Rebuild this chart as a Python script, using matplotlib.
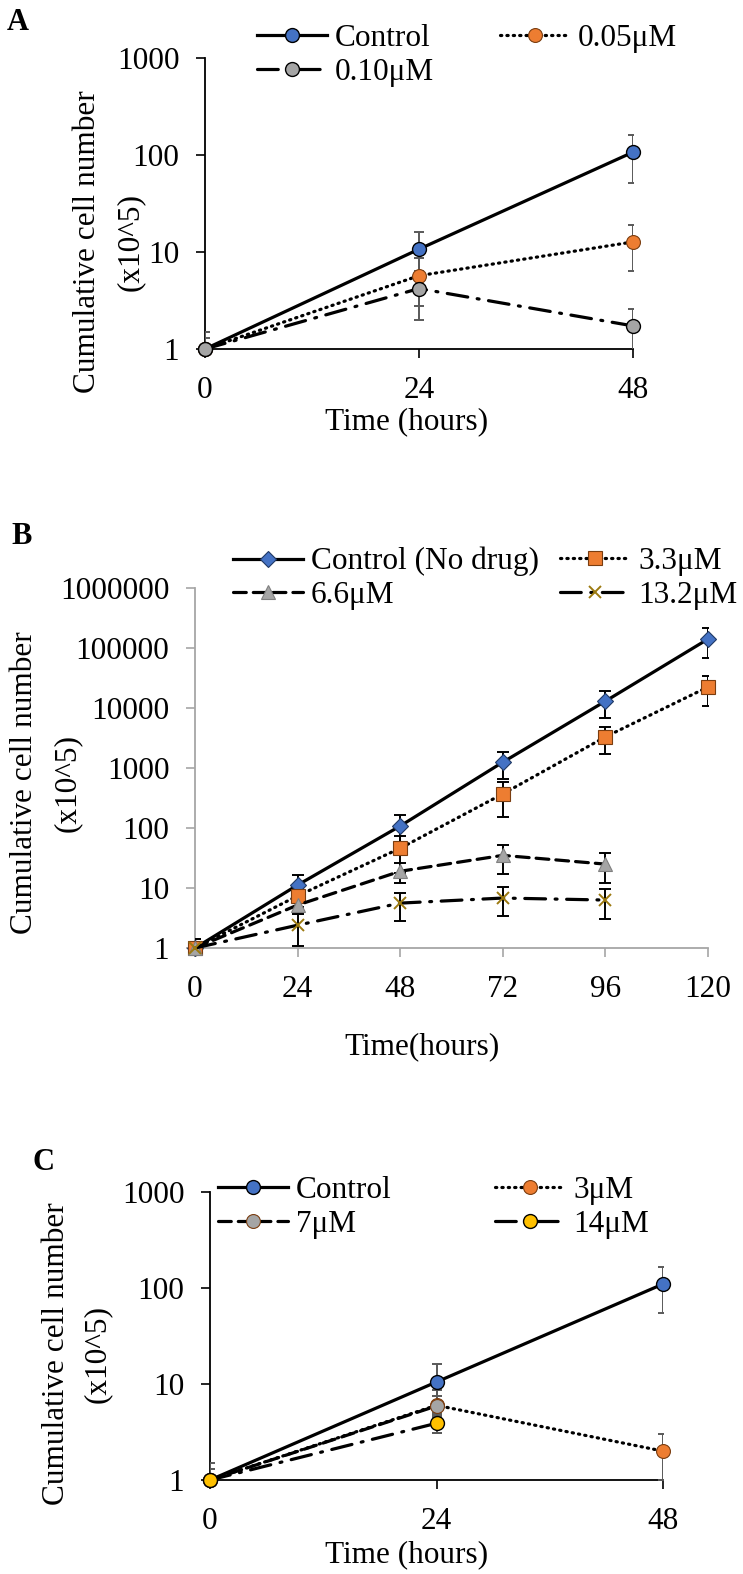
import matplotlib
matplotlib.use("Agg")
import matplotlib.pyplot as plt
from matplotlib.ticker import FixedLocator, FixedFormatter, NullLocator

# ---------------- data ----------------
A_time = [0, 24, 48]
A_control = [1, 10.7, 107]
A_control_err = [0.5, 5.5, 55]
A_005 = [1, 5.7, 12.7]
A_005_err = [0.3, 2.9, 6.3]
A_010 = [1, 4.2, 1.73]
A_010_err = [0.5, 2.2, 0.85]
A_labels = ["Control", "0.05\u03bcM", "0.10\u03bcM"]
A_yticks = [1, 10, 100, 1000]

B_time = [0, 24, 48, 72, 96, 120]
B_time_short = [0, 24, 48, 72, 96]
B_control = [1, 11.2, 108, 1250, 13000, 141000]
B_control_err = [0.4, 5.3, 58, 600, 6200, 72000]
B_33 = [1, 7.4, 46, 370, 3300, 22400]
B_33_err = [0.4, 2.5, 28, 220, 1600, 11500]
B_66 = [1, 5.2, 19, 35, 25]
B_66_err = [0.4, 1.5, 7, 18, 13]
B_132 = [1, 2.4, 5.6, 6.8, 6.3]
B_132_err = [0.4, 1.3, 2.8, 3.4, 3.2]
B_labels = ["Control (No drug)", "3.3\u03bcM", "6.6\u03bcM", "13.2\u03bcM"]
B_yticks = [1, 10, 100, 1000, 10000, 100000, 1000000]

C_time = [0, 24, 48]
C_time_short = [0, 24]
C_control = [1, 10.5, 110]
C_control_err = [0.5, 5.5, 55]
C_3 = [1, 6.0, 2.0]
C_3_err = [0.3, 1.5, 1.0]
C_7 = [1, 5.9]
C_7_err = [0.3, 2.8]
C_14 = [1, 3.9]
C_14_err = [0.3, 0.8]
C_labels = ["Control", "3\u03bcM", "7\u03bcM", "14\u03bcM"]
C_yticks = [1, 10, 100, 1000]

YLAB1 = "Cumulative cell number"
YLAB2 = "(x10^5)"

# ---------------- style ----------------
plt.rcParams['font.family'] = ['Liberation Serif', 'DejaVu Serif']
FS = 22.5
W, H = 743, 1574
BLUE = '#4472C4'
ORANGE = '#ED7D31'
GRAY = '#A5A5A5'
GOLD = '#FFC000'
SOLID = '-'
DOTTED = (0, (0.4, 1.6))
DASHED = (0, (4.0, 2.2))
LDASHDOT = (0, (6.5, 3.0, 0.6, 3.0))

fig = plt.figure(figsize=(W / 100, H / 100), dpi=100)


def rect(left, right, top, bottom):
    return [left / W, 1 - bottom / H, (right - left) / W, (bottom - top) / H]


def fx(px):
    return px / W


def fy(py):
    return 1 - py / H


def setup_axes(ax, xmax, xticks, yticks, ymax, spine_color):
    ax.set_yscale('log')
    ax.set_xlim(0, xmax)
    ax.set_ylim(1, ymax)
    for s in ['top', 'right']:
        ax.spines[s].set_visible(False)
    for s in ['left', 'bottom']:
        ax.spines[s].set_color(spine_color)
        ax.spines[s].set_linewidth(1.3)
    ax.yaxis.set_major_locator(FixedLocator(yticks))
    ax.yaxis.set_major_formatter(FixedFormatter([str(v) for v in yticks]))
    ax.yaxis.set_minor_locator(NullLocator())
    ax.xaxis.set_major_locator(FixedLocator(xticks))
    ax.xaxis.set_major_formatter(FixedFormatter([str(v) for v in xticks]))
    ax.tick_params(axis='both', direction='out', length=6.5, width=1.2,
                   color=spine_color, labelsize=FS, labelcolor='black')
    ax.tick_params(axis='y', pad=12)
    ax.tick_params(axis='x', pad=13)
    ax.set_facecolor('none')


def series(ax, t, v, e, ls, marker, mfc, ms, label, ecolor, capsize, mec='black', mew=1.0):
    ax.errorbar(t, v, yerr=e, fmt='none', ecolor=ecolor, elinewidth=1.4,
                capsize=capsize, capthick=1.4, zorder=3)
    ln, = ax.plot(t, v, linestyle=ls, color='black', lw=2.3, marker=marker,
                  mfc=mfc, mec=mec, mew=mew, ms=ms, zorder=4, clip_on=False,
                  label=label, dash_capstyle='round')
    return ln


def legend_col(handles, x, ytop):
    leg = fig.legend(handles=handles, labels=[h.get_label() for h in handles],
                     loc='upper left', bbox_to_anchor=(fx(x), fy(ytop)),
                     frameon=False, fontsize=FS, borderpad=0, borderaxespad=0,
                     handlelength=2.25, handletextpad=0.25, labelspacing=0.15,
                     numpoints=1)
    return leg


def ylabel(x1, x2, yc):
    fig.text(fx(x1), fy(yc), YLAB1, rotation=90, ha='center', va='center', fontsize=FS)
    fig.text(fx(x2), fy(yc), YLAB2, rotation=90, ha='center', va='center', fontsize=FS)


# ---------------- Panel A ----------------
axA = fig.add_axes(rect(205, 633, 58, 349))
setup_axes(axA, 48, A_time, A_yticks, 1000, 'black')
hA1 = series(axA, A_time, A_control, A_control_err, SOLID, 'o', BLUE, 10, A_labels[0], '#595959', 3.5)
hA2 = series(axA, A_time, A_005, A_005_err, DOTTED, 'o', ORANGE, 10, A_labels[1], '#595959', 3.5, mec='#7a3d10', mew=0.8)
hA3 = series(axA, A_time, A_010, A_010_err, LDASHDOT, 'o', GRAY, 10, A_labels[2], '#595959', 3.5)
legend_col([hA1, hA3], 257, 24)
legend_col([hA2], 500, 24)
ylabel(88, 130, 242)
fig.text(fx(407), fy(422), "Time (hours)", ha='center', va='center', fontsize=FS)
fig.text(fx(18), fy(23), "A", ha='center', va='center', fontsize=22, weight='bold')

# ---------------- Panel B ----------------
axB = fig.add_axes(rect(195, 708, 588, 948))
setup_axes(axB, 120, B_time, B_yticks, 1000000, '#A6A6A6')
hB1 = series(axB, B_time, B_control, B_control_err, SOLID, 'D', BLUE, 8.5, B_labels[0], 'black', 4.5, mec='#1f3864', mew=0.8)
hB2 = series(axB, B_time, B_33, B_33_err, DOTTED, 's', ORANGE, 9.5, B_labels[1], 'black', 4.5, mec='#7a3d10', mew=0.8)
hB3 = series(axB, B_time_short, B_66, B_66_err, DASHED, '^', GRAY, 10, B_labels[2], 'black', 4.5, mec='#808080', mew=0.8)
hB4 = series(axB, B_time_short, B_132, B_132_err, LDASHDOT, 'x', GOLD, 9, B_labels[3], 'black', 4.5, mec='#9C7A10', mew=1.4)
legend_col([hB1, hB3], 233, 547)
legend_col([hB2, hB4], 560, 547)
ylabel(25, 67, 783)
fig.text(fx(422), fy(1047), "Time(hours)", ha='center', va='center', fontsize=FS)
fig.text(fx(22), fy(537), "B", ha='center', va='center', fontsize=22, weight='bold')

# ---------------- Panel C ----------------
axC = fig.add_axes(rect(210, 663, 1192, 1480))
setup_axes(axC, 48, C_time, C_yticks, 1000, 'black')
hC1 = series(axC, C_time, C_control, C_control_err, SOLID, 'o', BLUE, 10, C_labels[0], '#595959', 3.5)
hC2 = series(axC, C_time, C_3, C_3_err, DOTTED, 'o', ORANGE, 10, C_labels[1], '#595959', 3.5, mec='#7a3d10', mew=0.8)
hC3 = series(axC, C_time_short, C_7, C_7_err, DASHED, 'o', GRAY, 10, C_labels[2], '#595959', 3.5, mec='#7a3d10', mew=0.8)
hC4 = series(axC, C_time_short, C_14, C_14_err, LDASHDOT, 'o', GOLD, 10, C_labels[3], '#595959', 3.5)
legend_col([hC1, hC3], 218, 1176)
legend_col([hC2, hC4], 495, 1176)
ylabel(57, 97, 1354)
fig.text(fx(407), fy(1555), "Time (hours)", ha='center', va='center', fontsize=FS)
fig.text(fx(43), fy(1163), "C", ha='center', va='center', fontsize=22, weight='bold')

fig.savefig("out.png", dpi=100)
